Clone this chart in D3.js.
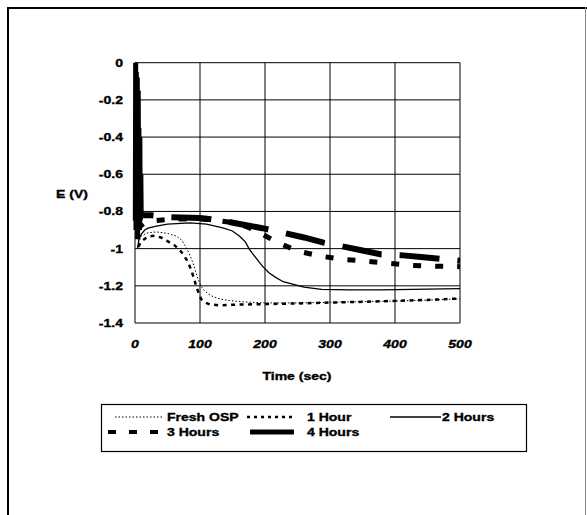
<!DOCTYPE html>
<html><head><meta charset="utf-8">
<script src="https://cdn.jsdelivr.net/npm/d3@7"></script>
<style>body{margin:0;background:#fff}text{font-family:"Liberation Sans",Arial,sans-serif;font-weight:bold;fill:#000;stroke:#000;stroke-width:0.35px}</style>
</head><body><svg id="c" width="587" height="515"></svg>
<script>
const xTicks = [0, 100, 200, 300, 400, 500];
const xTickLabels = ["0", "100", "200", "300", "400", "500"];
const yTicks = [0, -0.2, -0.4, -0.6, -0.8, -1, -1.2, -1.4];
const yTickLabels = ["0", "-0.2", "-0.4", "-0.6", "-0.8", "-1", "-1.2", "-1.4"];
const seriesNames = ["Fresh OSP", "1 Hour", "2 Hours", "3 Hours", "4 Hours"];

const freshT = [5, 10, 20, 33, 50, 64, 72, 79, 85, 89, 93, 97, 101, 105, 112, 120, 132, 146, 170, 200, 250, 300, 350, 400, 450, 500];
const freshE = [-0.97, -0.93, -0.915, -0.91, -0.918, -0.933, -0.955, -0.995, -1.04, -1.076, -1.12, -1.165, -1.195, -1.219, -1.242, -1.258, -1.272, -1.28, -1.287, -1.292, -1.292, -1.289, -1.285, -1.282, -1.277, -1.27];

const hour1T = [5, 10, 20, 30, 40, 50, 60, 68, 74, 79, 83, 87, 91, 95, 99, 102, 108, 115, 130, 150, 200, 250, 300, 350, 400, 450, 500];
const hour1E = [-0.99, -0.96, -0.935, -0.93, -0.94, -0.96, -0.98, -1.004, -1.03, -1.058, -1.085, -1.12, -1.165, -1.21, -1.25, -1.272, -1.29, -1.30, -1.305, -1.302, -1.298, -1.295, -1.29, -1.286, -1.281, -1.276, -1.268];

const hour2T = [4, 6, 10, 15, 20, 33, 50, 85, 110, 135, 150, 161, 170, 176, 186, 196, 206, 217, 228, 241, 260, 287, 330, 379, 450, 500];
const hour2E = [-1.0, -0.95, -0.92, -0.90, -0.89, -0.879, -0.868, -0.861, -0.868, -0.888, -0.905, -0.933, -0.965, -1.004, -1.05, -1.094, -1.13, -1.156, -1.178, -1.19, -1.207, -1.219, -1.222, -1.222, -1.218, -1.215];

const hour3T = [8, 15, 30, 60, 100, 120, 150, 170, 190, 210, 225, 250, 285, 320, 355, 390, 425, 460, 500];
const hour3E = [-0.88, -0.86, -0.85, -0.84, -0.84, -0.845, -0.86, -0.88, -0.91, -0.95, -0.975, -1.013, -1.04, -1.058, -1.067, -1.079, -1.09, -1.094, -1.097];

const hour4SpikeT = [0.5, 1, 1.5, 2, 3, 3.5, 4, 5, 5.5, 6, 7, 7.5, 8, 9, 9.5, 10];
const hour4SpikeE = [-0.85, -0.0, -0.9, -0.05, -0.85, -0.08, -0.95, -0.15, -0.8, -0.35, -0.9, -0.4, -0.85, -0.6, -0.8, -0.82];
const hour4T = [10, 15, 25, 50, 100, 135, 165, 196, 229, 260, 290, 318, 350, 379, 408, 440, 469, 500];
const hour4E = [-0.82, -0.82, -0.82, -0.83, -0.835, -0.85, -0.87, -0.89, -0.915, -0.94, -0.968, -0.987, -1.01, -1.031, -1.035, -1.045, -1.055, -1.065];

const svg = d3.select("#c");
const x = d3.scaleLinear().domain([0, 500]).range([135, 460]);
const y = d3.scaleLinear().domain([-1.4, 0]).range([323, 62.7]);

const FS = 11.5, SX = 1.22;
function label(px, py, txt, anchor, italic) {
  const t = svg.append("text").attr("transform", `translate(${px},${py}) scale(${SX},1)`)
    .attr("text-anchor", anchor).attr("font-size", FS).text(txt);
  if (italic) t.attr("font-style", "italic");
  return t;
}

// outer frame
svg.append("line").attr("x1", 8).attr("x2", 8).attr("y1", 7).attr("y2", 515).attr("stroke", "#000").attr("stroke-width", 2);
svg.append("line").attr("x1", 7).attr("x2", 587).attr("y1", 8).attr("y2", 8).attr("stroke", "#000").attr("stroke-width", 2);
svg.append("line").attr("x1", 585.5).attr("x2", 585.5).attr("y1", 7).attr("y2", 515).attr("stroke", "#888").attr("stroke-width", 1);

// gridlines
const g = svg.append("g");
g.selectAll(".vg").data(xTicks).join("line")
  .attr("x1", d => x(d)).attr("x2", d => x(d)).attr("y1", y(0)).attr("y2", y(-1.4))
  .attr("stroke", "#000").attr("stroke-width", 1);
g.selectAll(".hg").data(yTicks).join("line")
  .attr("x1", x(0)).attr("x2", x(500)).attr("y1", d => y(d)).attr("y2", d => y(d))
  .attr("stroke", "#000").attr("stroke-width", 1);

// tick labels
yTicks.forEach((d, i) => label(123, y(d) + 4, yTickLabels[i], "end", false));
xTicks.forEach((d, i) => label(x(d), 348, xTickLabels[i], "middle", true));

label(297, 380, "Time (sec)", "middle", false);
label(72, 198, "E (V)", "middle", false);

const line = d3.line().x(d => x(d[0])).y(d => y(d[1]));
const zip = (a, b) => a.map((v, i) => [v, b[i]]);

const styles = [
  {w: 1, dash: "1.5,2"},
  {w: 2.5, dash: "4,4.5"},
  {w: 1.3, dash: null},
  {w: 5, dash: "8,14"},
  {w: 6, dash: "40,18"}
];
const datasets = [zip(freshT, freshE), zip(hour1T, hour1E), zip(hour2T, hour2E), zip(hour3T, hour3E), zip(hour4T, hour4E)];

datasets.forEach((d, i) => {
  const p = svg.append("path").attr("d", line(d)).attr("fill", "none").attr("stroke", "#000")
    .attr("stroke-width", styles[i].w);
  if (styles[i].dash) p.attr("stroke-dasharray", styles[i].dash);
  if (i === 4) p.attr("stroke-dashoffset", 28);
  if (i === 3) p.attr("stroke-dashoffset", 4);
});
svg.append("path").attr("d", line(zip(hour4SpikeT, hour4SpikeE))).attr("fill", "none")
  .attr("stroke", "#000").attr("stroke-width", 5).attr("stroke-linejoin", "bevel");

// legend
svg.append("rect").attr("x", 101.5).attr("y", 404.5).attr("width", 425).attr("height", 47)
  .attr("fill", "none").attr("stroke", "#000").attr("stroke-width", 1.2);
const leg = [
  {x1: 115, x2: 162, tx: 167, ty: 417},
  {x1: 247, x2: 296, tx: 307, ty: 417},
  {x1: 390, x2: 441, tx: 442, ty: 417},
  {x1: 108, x2: 158, tx: 167, ty: 432},
  {x1: 250, x2: 294, tx: 307, ty: 432}
];
leg.forEach((l, i) => {
  const ln = svg.append("line").attr("x1", l.x1).attr("x2", l.x2).attr("y1", l.ty).attr("y2", l.ty)
    .attr("stroke", "#000").attr("stroke-width", styles[i].w);
  if (i === 0) ln.attr("stroke-dasharray", "1.5,2");
  if (i === 1) ln.attr("stroke-dasharray", "3,4");
  if (i === 3) ln.attr("stroke-dasharray", "8,13").attr("stroke-width", 4);
  if (i === 4) ln.attr("stroke-width", 5);
  label(l.tx, l.ty + 4, seriesNames[i], "start", false);
});
</script></body></html>
